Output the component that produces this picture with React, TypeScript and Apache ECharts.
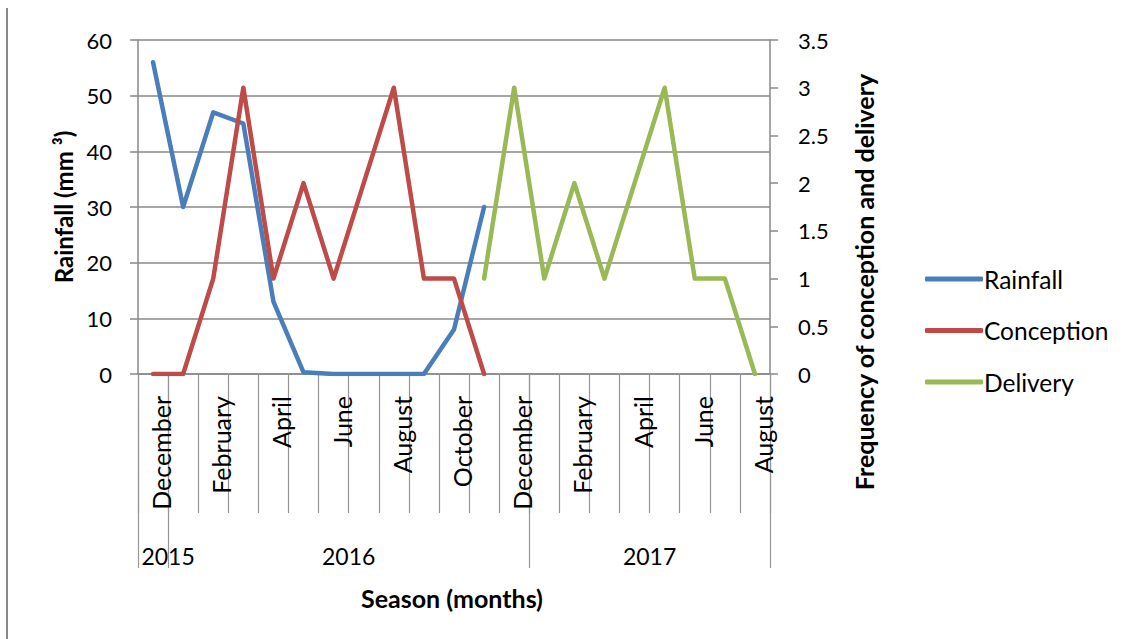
import { useEffect, useRef } from "react";
import * as echarts from "echarts";

// Months from December 2015 to August 2017
const months = [
  "December",
  "January", "February", "March", "April", "May", "June",
  "July", "August", "September", "October", "November", "December",
  "January", "February", "March", "April", "May", "June", "July", "August",
];
const years = ["2015", "2016", "2017"];
const monthsPerYear = [1, 12, 8];

// Monthly rainfall (mm³)
const rainfall: (number | null)[] = [
  56, 30, 47, 45, 13, 0.3, 0, 0, 0, 0, 8, 30,
  null, null, null, null, null, null, null, null, null,
];
// Frequency of conception
const conception: (number | null)[] = [
  0, 0, 1, 3, 1, 2, 1, 2, 3, 1, 1, 0,
  null, null, null, null, null, null, null, null, null,
];
// Frequency of delivery
const delivery: (number | null)[] = [
  null, null, null, null, null, null, null, null, null, null, null,
  1, 3, 1, 2, 1, 2, 3, 1, 1, 0,
];

const FONT = "Lato, 'Open Sans', sans-serif";
const GRID = "#898989";
const TICK = "#959595";
const TEXT = "#000";

export default function App() {
  const ref = useRef<HTMLDivElement>(null);

  useEffect(() => {
    if (!ref.current) return;
    const chart = echarts.init(ref.current, undefined, { renderer: "svg" });

    // Year row of the two-level category axis: half-month points,
    // with dividers at the year boundaries.
    const points = months.length * 2 + 1;
    const boundaries = new Set<number>([0]);
    const yearLabelAt = new Map<number, string>();
    let start = 0;
    years.forEach((y, i) => {
      const span = monthsPerYear[i];
      const centre = Math.max(start * 2 + span, 2);
      yearLabelAt.set(centre, y);
      start += span;
      boundaries.add(start * 2);
    });
    const yearData = Array.from({ length: points }, (_, i) => yearLabelAt.get(i) ?? "");

    const line = (color: string) => ({
      color,
      width: 4.5,
      cap: "round" as const,
      join: "round" as const,
    });

    chart.setOption({
      animation: false,
      textStyle: { fontFamily: FONT },
      grid: { left: 138, top: 40, right: 368, bottom: 265, containLabel: false },
      legend: {
        orient: "vertical",
        left: 920,
        top: 256,
        itemWidth: 58,
        itemHeight: 5,
        itemGap: 15.5,
        icon: "roundRect",
        selectedMode: false,
        textStyle: {
          fontFamily: FONT,
          fontSize: 24.5,
          color: TEXT,
          lineHeight: 28,
          padding: [8, 0, 0, -4],
        },
        data: ["Rainfall", "Conception", "Delivery"],
      },
      xAxis: [
        {
          type: "category",
          data: months,
          boundaryGap: true,
          axisLine: { show: true, lineStyle: { color: GRID, width: 1.5 } },
          axisTick: {
            show: true,
            interval: 0,
            length: 139,
            lineStyle: { color: TICK, width: 1.2 },
          },
          axisLabel: {
            interval: 1,
            rotate: 90,
            margin: 22,
            fontSize: 25,
            lineHeight: 16,
            fontFamily: FONT,
            color: TEXT,
            // leading empty line nudges the rotated label to the right of the tick centre
            formatter: (v: string) => "\n" + v,
          },
          splitLine: { show: false },
        },
        {
          type: "category",
          data: yearData,
          boundaryGap: false,
          position: "bottom",
          axisLine: { show: false },
          axisTick: {
            show: true,
            interval: (i: number) => boundaries.has(i),
            length: 194,
            lineStyle: { color: TICK, width: 1.2 },
          },
          axisLabel: {
            interval: (i: number) => yearLabelAt.has(i),
            margin: 170,
            fontSize: 23,
            fontFamily: FONT,
            color: TEXT,
          },
          splitLine: { show: false },
        },
      ],
      yAxis: [
        {
          type: "value",
          min: 0,
          max: 60,
          interval: 10,
          name: "Rainfall (mm ³)",
          nameLocation: "middle",
          nameGap: 60,
          nameTextStyle: { fontFamily: FONT, fontSize: 24, fontWeight: "bold", color: TEXT },
          axisLine: { show: true, lineStyle: { color: GRID, width: 1.5 } },
          axisTick: { show: true, length: 8, lineStyle: { color: GRID, width: 1.5 } },
          axisLabel: { margin: 26, fontSize: 22, fontFamily: FONT, color: TEXT },
          splitLine: { show: true, lineStyle: { color: GRID, width: 1.5 } },
        },
        {
          type: "value",
          position: "right",
          min: 0,
          max: 3.5,
          interval: 0.5,
          axisLine: { show: true, lineStyle: { color: GRID, width: 1.5 } },
          axisTick: { show: true, length: 8, lineStyle: { color: GRID, width: 1.5 } },
          axisLabel: { margin: 28, fontSize: 22, fontFamily: FONT, color: TEXT },
          splitLine: { show: false },
        },
      ],
      series: [
        {
          name: "Rainfall",
          type: "line",
          data: rainfall,
          yAxisIndex: 0,
          symbol: "none",
          color: "#4a7ebb",
          lineStyle: line("#4a7ebb"),
        },
        {
          name: "Conception",
          type: "line",
          data: conception,
          yAxisIndex: 1,
          symbol: "none",
          color: "#be4b48",
          lineStyle: line("#be4b48"),
        },
        {
          name: "Delivery",
          type: "line",
          data: delivery,
          yAxisIndex: 1,
          symbol: "none",
          color: "#98b954",
          lineStyle: line("#98b954"),
        },
      ],
      graphic: [
        {
          type: "line",
          shape: { x1: 7, y1: 8, x2: 7, y2: 639 },
          style: { stroke: GRID, lineWidth: 2 },
        },
        {
          type: "text",
          x: 864,
          y: 282,
          rotation: Math.PI / 2,
          style: {
            text: "Frequency of conception and delivery",
            font: `bold 25px ${FONT}`,
            fill: TEXT,
            align: "center",
            verticalAlign: "middle",
          },
        },
        {
          type: "text",
          x: 452,
          y: 598,
          style: {
            text: "Season (months)",
            font: `bold 25px ${FONT}`,
            fill: TEXT,
            align: "center",
            verticalAlign: "middle",
          },
        },
      ],
    });

    return () => chart.dispose();
  }, []);

  return (
    <div
      ref={ref}
      style={{ position: "fixed", left: 0, top: 0, width: 1138, height: 639, background: "#fff" }}
    />
  );
}
